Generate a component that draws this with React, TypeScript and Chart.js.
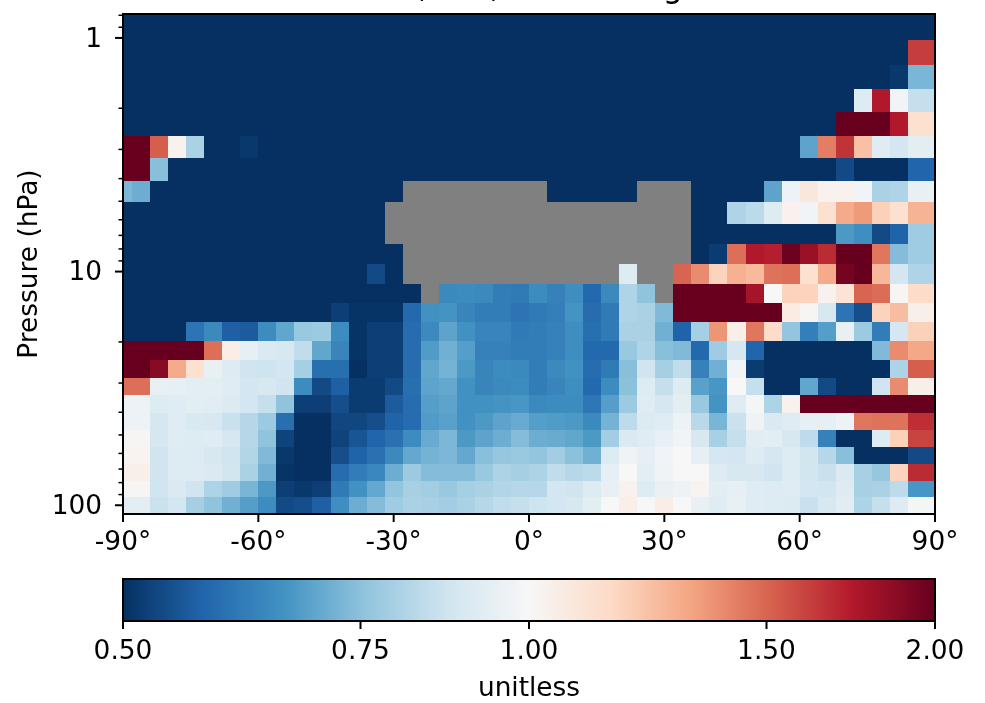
import React, { useEffect, useRef } from "react";
import { Chart, registerables } from "chart.js";

Chart.register(...registerables);

const FONT = "'DejaVu Sans'";
const titleText = "Dev, Ref, Fixed Range";
const yLabel = "Pressure (hPa)";
const cbarLabel = "unitless";

const lonEdges = [-90,-88,-84,-80,-76,-72,-68,-64,-60,-56,-52,-48,-44,-40,-36,-32,-28,-24,-20,-16,-12,-8,-4,0,4,8,12,16,20,24,28,32,36,40,44,48,52,56,60,64,68,72,76,80,84,88,90];
const pressureEdges = [0.79,1.025,1.311,1.661,2.084,2.64,3.28,4.11,5.06,6.28,7.65,9.32,11.35,13.68,16.5,19.9,23.8,28.6,33.9,40.4,47.8,56.5,66.8,79,92.5,108.3];
const xTicks = [-90,-60,-30,0,30,60,90];
const yMajor = [1,10,100];
const yMinor = [0.8,0.9,2,3,4,5,6,7,8,9,20,30,40,50,60,70,80,90];
const cbarTicks = [0.5,0.75,1,1.5,2];
const rdbu = ["#053061","#2166ac","#4393c3","#92c5de","#d1e5f0","#f7f7f7","#fddbc7","#f4a582","#d6604d","#b2182b","#67001f"];
const G = null;
const D = 0.5;

const ratioRows = [
/*0*/ [D,D,D,D,D,D,D,D,D,D, D,D,D,D,D,D,D,D,D,D, D,D,D,D,D,D,D,D,D,D, D,D,D,D,D,D,D,D,D,D, D,D,D,D,D,D],
/*1*/ [D,D,D,D,D,D,D,D,D,D, D,D,D,D,D,D,D,D,D,D, D,D,D,D,D,D,D,D,D,D, D,D,D,D,D,D,D,D,D,D, D,D,D,D,1.62,1.62],
/*2*/ [D,D,D,D,D,D,D,D,D,D, D,D,D,D,D,D,D,D,D,D, D,D,D,D,D,D,D,D,D,D, D,D,D,D,D,D,D,D,D,D, D,D,D,.51,.727,.727],
/*3*/ [D,D,D,D,D,D,D,D,D,D, D,D,D,D,D,D,D,D,D,D, D,D,D,D,D,D,D,D,D,D, D,D,D,D,D,D,D,D,D,D, D,.91,1.74,.98,.85,.85],
/*4*/ [D,D,D,D,D,D,D,D,D,D, D,D,D,D,D,D,D,D,D,D, D,D,D,D,D,D,D,D,D,D, D,D,D,D,D,D,D,D,D,D, 2,2,2,1.74,1.12,1.12],
/*5*/ [2,2,1.52,1.03,.8,D,D,.51,D,D, D,D,D,D,D,D,D,D,D,D, D,D,D,D,D,D,D,D,D,D, D,D,D,D,D,D,D,D,.69,1.43, 1.65,1.23,.92,.88,.93,.93],
/*6*/ [2,2,.745,D,D,D,D,D,D,D, D,D,D,D,D,D,D,D,D,D, D,D,D,D,D,D,D,D,D,D, D,D,D,D,D,D,D,D,D,D, .535,D,D,D,.574,.574],
/*7*/ [.73,.71,D,D,D,D,D,D,D,D, D,D,D,D,D,D,G,G,G,G, G,G,G,G,D,D,D,D,D,G, G,G,D,D,D,D,.69,.96,1.08,1.03, 1.03,.98,.8,.81,.95,.95],
/*8*/ [D,D,D,D,D,D,D,D,D,D, D,D,D,D,D,G,G,G,G,G, G,G,G,G,G,G,G,G,G,G, G,G,D,D,.81,.83,.91,1.03,.98,1.12, 1.3,1.35,1.18,1.12,1.27,1.27],
/*9*/ [D,D,D,D,D,D,D,D,D,D, D,D,D,D,D,G,G,G,G,G, G,G,G,G,G,G,G,G,G,G, G,G,D,D,D,D,D,D,D,D, .67,.65,.535,.57,.78,.78],
/*10*/ [D,D,D,D,D,D,D,D,D,D, D,D,D,D,D,D,G,G,G,G, G,G,G,G,G,G,G,G,G,G, G,G,D,.515,1.47,1.74,1.72,1.98,1.82,1.68, 2,2,1.45,.74,.78,.78],
/*11*/ [D,D,D,D,D,D,D,D,D,D, D,D,D,D,.535,D,G,G,G,G, G,G,G,G,G,G,G,G,.91,G, G,1.5,1.39,1.17,1.28,1.25,1.46,1.47,1.12,1.3, 1.95,2,1.26,.88,.81,.81],
/*12*/ [D,D,D,D,D,D,D,D,D,D, D,D,D,D,D,D,D,G,.64,.645, .64,.615,.61,.645,.625,.65,.58,.64,.81,.755, G,2,2,2,2,1.78,1,1.17,1.17,1.03, 1.1,1.5,1.48,1.01,1.14,1.14],
/*13*/ [D,D,D,D,D,D,D,D,D,D, D,D,.52,.505,.505,.505,.58,.655,.66,.63, .615,.615,.6,.61,.62,.66,.585,.61,.81,.8, .735,2,2,2,2,2,2,1.06,1.01,.89, .6,.54,1.17,1.24,1.04,1.04],
/*14*/ [D,D,D,D,.6,.64,.565,.56,.645,.695, .77,.775,.645,.505,.52,.52,.585,.64,.69,.655, .63,.63,.61,.615,.625,.65,.59,.61,.8,.8, .715,.57,.79,1.36,1.04,1.45,1.14,.76,.62,.68, .95,.775,.615,.885,1.18,1.18],
/*15*/ [2,2,2,2,2,1.47,1.05,.94,.9,.89, .84,.695,.63,.505,.52,.52,.585,.675,.715,.68, .625,.625,.615,.615,.625,.65,.58,.58,.77,.81, .745,.735,.58,.78,.885,.575,D,D,D,D, D,D,.735,1.39,1.31,1.31],
/*16*/ [2,2,1.88,1.3,1.12,.95,.91,.87,.865,.88, .79,.59,.59,.5,.52,.52,.585,.695,.72,.67, .63,.645,.64,.615,.64,.655,.585,.61,.745,.87, .79,.84,.625,.715,.98,.515,D,D,D,D, D,D,D,.805,1.52,1.52],
/*17*/ [1.47,1.47,.95,.94,.93,.93,.92,.88,.89,.87, .645,.535,.565,.515,.515,.535,.59,.69,.7,.655, .63,.64,.645,.615,.63,.65,.58,.645,.75,.91, .85,.91,.685,.665,1,.85,D,D,.695,.535, D,D,.87,1.39,1.04,1.04],
/*18*/ [.96,.96,.91,.92,.93,.925,.905,.88,.85,.755, .52,.52,.54,.515,.515,.56,.585,.68,.69,.655, .655,.66,.665,.64,.645,.645,.605,.68,.775,.92, .885,.93,.77,.66,.92,.99,.805,1.03,2,2, 2,2,2,2,2,2],
/*19*/ [.96,.96,.885,.92,.895,.89,.855,.82,.775,.59, .5,.5,.53,.53,.54,.57,.585,.675,.685,.655, .67,.69,.705,.68,.675,.67,.64,.72,.835,.905, .92,.96,.825,.725,.86,.97,.9,.92,.94,.94, .96,1.45,1.46,1.46,1.67,1.67],
/*20*/ [1.01,1.01,.885,.92,.91,.92,.885,.82,.755,.525, .5,.5,.525,.55,.575,.595,.645,.705,.73,.67, .69,.71,.74,.71,.705,.695,.67,.785,.9,.92, .945,.98,.89,.795,.85,.925,.93,.89,.835,.625, D,D,.91,1.18,1.6,1.6],
/*21*/ [1.02,1.02,.87,.91,.91,.89,.87,.815,.735,.51, .5,.5,.54,.57,.595,.64,.7,.72,.73,.7, .745,.765,.77,.76,.785,.75,.715,.91,.97,.94, .975,1,.94,.885,.88,.91,.885,.91,.875,.82, .745,D,D,D,.535,.535],
/*22*/ [1.04,1.04,.87,.91,.915,.9,.875,.8,.715,.505, .5,.5,.585,.615,.635,.71,.775,.74,.74,.74, .77,.805,.79,.805,.84,.82,.83,.94,1,.93, .97,1,1,.915,.89,.89,.87,.91,.875,.855, .9,.795,.765,1.17,1.68,1.68],
/*23*/ [1.01,1.01,.87,.9,.87,.805,.78,.725,.67,.52, .51,.52,.61,.655,.7,.76,.795,.785,.77,.79, .8,.815,.82,.82,.88,.87,.91,.95,1.03,.91, .955,.96,1.02,.93,.94,.92,.915,.92,.88,.875, .915,.795,.8,.835,.665,.665],
/*24*/ [.93,.93,.86,.88,.79,.755,.715,.68,.645,.535, .54,.565,.65,.71,.74,.78,.8,.795,.785,.8, .82,.84,.85,.865,.88,.89,.93,1,1.04,1, 1.05,1,.95,.92,.95,.92,.91,.905,.855,.89, .925,.805,.85,.915,.99,.99],
];

const PLOT_L = 123, PLOT_R = 935, PLOT_T = 14, PLOT_B = 514;
const CB_T = 14, CB_B = 56;
const TICK = "#000";

function hexRgb(h: string) {
  return [1, 3, 5].map((i) => parseInt(h.slice(i, i + 2), 16));
}
function colorFor(v: number | null) {
  if (v === null) return "#808080";
  const t = Math.max(0, Math.min(1, Math.log(v / 0.5) / Math.log(4)));
  const f = t * (rdbu.length - 1);
  const i = Math.min(rdbu.length - 2, Math.floor(f));
  const a = hexRgb(rdbu[i]), b = hexRgb(rdbu[i + 1]);
  const u = f - i;
  return `rgb(${a.map((c, k) => Math.round(c + (b[k] - c) * u)).join(",")})`;
}

const cellData = ratioRows.flatMap((row, r) =>
  row.map((v, c) => ({ x: (lonEdges[c] + lonEdges[c + 1]) / 2, y: Math.sqrt(pressureEdges[r] * pressureEdges[r + 1]), r, c, v }))
);

const heatPlugin = {
  id: "heatCells",
  afterUpdate(chart: any) {
    // nudge the y tick labels down so that they sit level with their tick marks
    for (const item of chart.scales.y.getLabelItems(chart.chartArea)) {
      const t = item.options.translation;
      item.options.translation = [t[0], t[1] + 2];
    }
  },
  beforeDatasetsDraw(chart: any) {
    const { ctx, scales, chartArea } = chart;
    ctx.save();
    ctx.beginPath();
    ctx.rect(chartArea.left, chartArea.top, chartArea.right - chartArea.left, chartArea.bottom - chartArea.top);
    ctx.clip();
    ctx.fillStyle = "#808080";
    ctx.fillRect(chartArea.left, chartArea.top, chartArea.right - chartArea.left, chartArea.bottom - chartArea.top);
    for (const d of chart.data.datasets[0].data) {
      const x0 = Math.round(scales.x.getPixelForValue(lonEdges[d.c]));
      const x1 = Math.round(scales.x.getPixelForValue(lonEdges[d.c + 1]));
      const y0 = Math.round(scales.y.getPixelForValue(pressureEdges[d.r]));
      const y1 = Math.round(scales.y.getPixelForValue(pressureEdges[d.r + 1]));
      ctx.fillStyle = colorFor(d.v);
      ctx.fillRect(x0, y0, x1 - x0, y1 - y0);
    }
    ctx.restore();
  },
  afterDraw(chart: any) {
    const { ctx, scales, chartArea: a } = chart;
    ctx.save();
    ctx.strokeStyle = TICK;
    ctx.lineWidth = 2;
    ctx.strokeRect(a.left, a.top, a.right - a.left, a.bottom - a.top);
    const tick = (x0: number, y0: number, x1: number, y1: number, w: number) => {
      ctx.lineWidth = w;
      ctx.beginPath();
      ctx.moveTo(x0, y0);
      ctx.lineTo(x1, y1);
      ctx.stroke();
    };
    for (const v of xTicks) {
      const x = scales.x.getPixelForValue(v);
      tick(x, a.bottom, x, a.bottom + 8, 2);
    }
    for (const v of yMajor) {
      const y = scales.y.getPixelForValue(v);
      tick(a.left, y, a.left - 8, y, 2);
    }
    for (const v of yMinor) {
      const y = scales.y.getPixelForValue(v);
      tick(a.left, y, a.left - 4.5, y, 1.5);
    }
    ctx.fillStyle = "#000";
    ctx.font = `31.7px ${FONT}`;
    ctx.textAlign = "center";
    ctx.textBaseline = "alphabetic";
    ctx.fillText(titleText, 529, -3);
    ctx.restore();
  },
};

const cbarPlugin = {
  id: "cbarFill",
  beforeDatasetsDraw(chart: any) {
    const { ctx, scales, chartArea: a } = chart;
    const x0 = scales.x.getPixelForValue(0.5), x1 = scales.x.getPixelForValue(2);
    const g = ctx.createLinearGradient(x0, 0, x1, 0);
    rdbu.forEach((c, i) => g.addColorStop(i / (rdbu.length - 1), c));
    ctx.fillStyle = g;
    ctx.fillRect(a.left, a.top, a.right - a.left, a.bottom - a.top);
  },
  afterDraw(chart: any) {
    const { ctx, scales, chartArea: a } = chart;
    ctx.save();
    ctx.strokeStyle = TICK;
    ctx.lineWidth = 2;
    ctx.strokeRect(a.left, a.top, a.right - a.left, a.bottom - a.top);
    for (const v of cbarTicks) {
      const x = scales.x.getPixelForValue(v);
      ctx.beginPath();
      ctx.moveTo(x, a.bottom);
      ctx.lineTo(x, a.bottom + 8);
      ctx.stroke();
    }
    ctx.restore();
  },
};

export default function App() {
  const mainRef = useRef<HTMLCanvasElement>(null);
  const cbarRef = useRef<HTMLCanvasElement>(null);

  useEffect(() => {
    const tickFont = { family: FONT, size: 26.4 };
    const main = new Chart(mainRef.current!, {
      type: "scatter",
      data: { datasets: [{ data: cellData as any, pointRadius: 0, pointHoverRadius: 0 }] },
      options: {
        responsive: false,
        animation: false,
        layout: { padding: { left: 0, top: PLOT_T, right: 985 - PLOT_R, bottom: 565 - PLOT_B - 60 } },
        plugins: { legend: { display: false }, tooltip: { enabled: false } },
        scales: {
          x: {
            type: "linear",
            min: -90,
            max: 90,
            afterBuildTicks: (s: any) => { s.ticks = xTicks.map((value) => ({ value })); },
            afterFit: (s: any) => { s.height = 60; s.paddingLeft = 0; s.paddingRight = 0; },
            grid: { display: false },
            border: { display: false },
            ticks: { maxRotation: 0, autoSkip: false, color: "#000", font: tickFont, padding: 5, callback: (v: any) => `${v}°` },
          },
          y: {
            type: "logarithmic",
            reverse: true,
            min: 0.79,
            max: 109,
            afterBuildTicks: (s: any) => { s.ticks = yMajor.map((value) => ({ value })); },
            afterFit: (s: any) => { s.width = PLOT_L; s.paddingTop = 0; s.paddingBottom = 0; },
            grid: { display: false },
            border: { display: false },
            ticks: { autoSkip: false, color: "#000", font: tickFont, padding: 13, callback: (v: any) => String(v) },
            title: { display: true, text: yLabel, color: "#000", font: { family: FONT, size: 26.4 }, padding: { top: 14, bottom: 0 } },
          },
        },
      },
      plugins: [heatPlugin],
    } as any);

    const cbar = new Chart(cbarRef.current!, {
      type: "scatter",
      data: { datasets: [{ data: cbarTicks.map((x) => ({ x, y: 0 })), pointRadius: 0, pointHoverRadius: 0 }] },
      options: {
        responsive: false,
        animation: false,
        layout: { padding: { left: PLOT_L, top: CB_T, right: 985 - PLOT_R, bottom: 138 - CB_B - 82 } },
        plugins: { legend: { display: false }, tooltip: { enabled: false } },
        scales: {
          x: {
            type: "logarithmic",
            min: 0.5,
            max: 2,
            afterBuildTicks: (s: any) => { s.ticks = cbarTicks.map((value) => ({ value })); },
            afterFit: (s: any) => { s.height = 82; s.paddingLeft = 0; s.paddingRight = 0; },
            grid: { display: false },
            border: { display: false },
            ticks: { maxRotation: 0, autoSkip: false, color: "#000", font: tickFont, padding: 7, callback: (v: any) => Number(v).toFixed(2) },
            title: { display: true, text: cbarLabel, color: "#000", font: { family: FONT, size: 26.4 }, padding: { top: 4, bottom: -2 } },
          },
          y: { display: false, min: -1, max: 1 },
        },
      },
      plugins: [cbarPlugin],
    } as any);

    return () => {
      main.destroy();
      cbar.destroy();
    };
  }, []);

  return (
    <div style={{ position: "fixed", left: 0, top: 0, width: 985, height: 703, background: "#fff" }}>
      <canvas ref={mainRef} width={985} height={565} style={{ position: "absolute", left: 0, top: 0, display: "block" }} />
      <canvas ref={cbarRef} width={985} height={138} style={{ position: "absolute", left: 0, top: 565, display: "block" }} />
    </div>
  );
}
